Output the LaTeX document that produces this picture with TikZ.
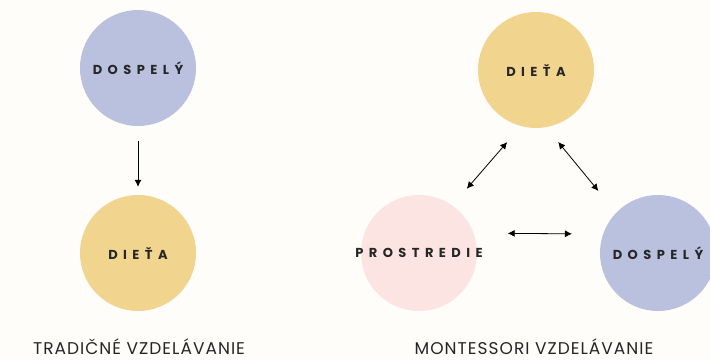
\documentclass[tikz,border=0pt]{standalone}
\usepackage{fontspec}
\usetikzlibrary{arrows.meta}
\newfontfamily\tagfont{Poppins}[LetterSpace=42]
\newfontfamily\titlefont{Poppins}[LetterSpace=6]
\definecolor{paper}{HTML}{FEFDFA}
\definecolor{adultblue}{HTML}{B9C1DF}
\definecolor{childyellow}{HTML}{F1D58F}
\definecolor{envpink}{HTML}{FBE4E2}
\tikzset{
  blob/.style={circle,minimum size=116pt,inner sep=0pt},
  tag/.style={font=\tagfont\bfseries\fontsize{13}{15}\selectfont,text=black!85},
  title/.style={font=\titlefont\fontsize{17}{19}\selectfont,text=black!85,inner sep=0pt,anchor=base},
  link/.style={line width=0.8pt,-{Latex[length=7pt,width=7pt]}},
  dlink/.style={line width=0.8pt,{Latex[length=7pt,width=7pt]}-{Latex[length=7pt,width=7pt]}},
}
\begin{document}
\begin{tikzpicture}[x=1pt,y=-1pt]
    \useasboundingbox[fill=paper] (0,0) rectangle (710,360);
    % traditional
    \node[blob,fill=adultblue,label={[tag]center:DOSPELÝ}] (adult1) at (138,68) {};
    \node[blob,fill=childyellow,label={[tag]center:DIEŤA}] (child1) at (138,253) {};
    \node[title] (trad) at (139,354) {TRADIČNÉ VZDELÁVANIE};
    \draw[link,shorten <=15pt,shorten >=8pt] (adult1.south) -- (child1.north);
    % montessori
    \node[blob,fill=childyellow,label={[tag]center:DIEŤA}] (child2) at (536,70) {};
    \node[blob,fill=envpink,label={[tag]center:PROSTREDIE}] (env) at (419,253) {};
    \node[blob,fill=adultblue,label={[tag]center:DOSPELÝ}] (adult2) at (658,253) {};
    \node[title] (mont) at (534,354) {MONTESSORI VZDELÁVANIE};
    \draw[dlink,shorten <=21pt,shorten >=22pt] (child2.255) -- (env.55);
    \draw[dlink,shorten <=19pt,shorten >=28pt] (child2.280) -- (adult2.136);
    \draw[dlink,shorten <=34pt,shorten >=31pt] (env.20) -- (adult2.161);
\end{tikzpicture}
\end{document}
